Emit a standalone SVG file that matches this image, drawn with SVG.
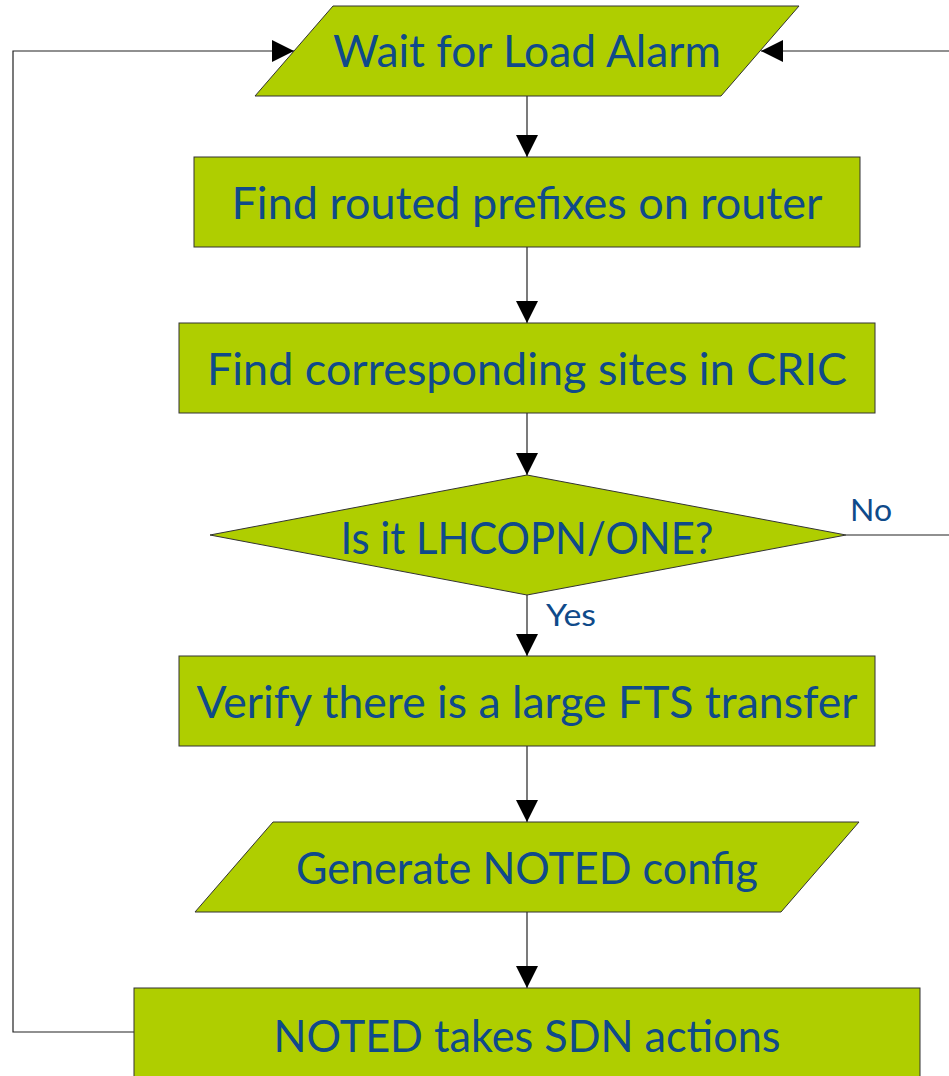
<svg xmlns="http://www.w3.org/2000/svg" width="949" height="1076" viewBox="0 0 949 1076">
<style>
.shape{fill:#AFCE00;stroke:#333;stroke-width:1}
.lbl{font-family:Lato,"Liberation Sans",sans-serif;font-size:45px;fill:#0F4A8A;text-anchor:middle}
.small{font-family:Lato,"Liberation Sans",sans-serif;font-size:31px;fill:#0F4A8A}
.conn{fill:none;stroke:#222;stroke-width:1.2}
</style>
<defs>
<marker id="arr" viewBox="0 0 22 22" refX="22" refY="11" markerWidth="22" markerHeight="22" markerUnits="userSpaceOnUse" orient="auto">
<path d="M0,0 L22,11 L0,22 Z" fill="#000"/>
</marker>
</defs>
<rect width="949" height="1076" fill="#fff"/>
<g id="connectors">
<path class="conn" d="M527,96 V157" marker-end="url(#arr)"/>
<path class="conn" d="M527,247 V323" marker-end="url(#arr)"/>
<path class="conn" d="M527,413 V475" marker-end="url(#arr)"/>
<path class="conn" d="M527,595 V656" marker-end="url(#arr)"/>
<path class="conn" d="M527,746 V822" marker-end="url(#arr)"/>
<path class="conn" d="M527,912 V988" marker-end="url(#arr)"/>
<path class="conn" d="M134,1032 H13 V51 H294" marker-end="url(#arr)"/>
<path class="conn" d="M846,535 H949"/>
<path class="conn" d="M949,51 H761" marker-end="url(#arr)"/>
<text class="small" x="850" y="521" textLength="42" lengthAdjust="spacingAndGlyphs">No</text>
<text class="small" x="546" y="626" textLength="50" lengthAdjust="spacingAndGlyphs">Yes</text>
</g>
<g id="n1">
<polygon class="shape" points="333,6 799,6 721,96 255,96"/>
<text class="lbl" x="527" y="67" textLength="388" lengthAdjust="spacingAndGlyphs">Wait for Load Alarm</text>
</g>
<g id="n2">
<rect class="shape" x="194" y="157" width="666" height="90"/>
<text class="lbl" x="527" y="219" textLength="591" lengthAdjust="spacingAndGlyphs">Find routed prefixes on router</text>
</g>
<g id="n3">
<rect class="shape" x="179" y="323" width="696" height="90"/>
<text class="lbl" x="527" y="385" textLength="640" lengthAdjust="spacingAndGlyphs">Find corresponding sites in CRIC</text>
</g>
<g id="n4">
<polygon class="shape" points="210,535 527,475 846,535 527,595"/>
<text class="lbl" x="527" y="554" textLength="373" lengthAdjust="spacingAndGlyphs">Is it LHCOPN/ONE?</text>
</g>
<g id="n5">
<rect class="shape" x="179" y="656" width="696" height="90"/>
<text class="lbl" x="527" y="718" textLength="661" lengthAdjust="spacingAndGlyphs">Verify there is a large FTS transfer</text>
</g>
<g id="n6">
<polygon class="shape" points="273,822 859,822 781,912 195,912"/>
<text class="lbl" x="527" y="884" textLength="462" lengthAdjust="spacingAndGlyphs">Generate NOTED config</text>
</g>
<g id="n7">
<rect class="shape" x="134" y="988" width="786" height="100"/>
<text class="lbl" x="527" y="1052" textLength="507" lengthAdjust="spacingAndGlyphs">NOTED takes SDN actions</text>
</g>
</svg>
